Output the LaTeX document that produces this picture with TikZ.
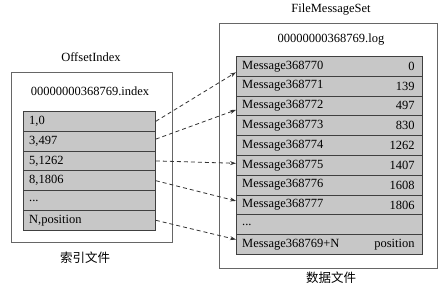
\documentclass[tikz,border=0pt]{standalone}
\usepackage{fontspec}
\setmainfont{Liberation Serif}
\newfontfamily\cjk{Noto Sans CJK SC}
\usetikzlibrary{arrows.meta}
\begin{document}
\begin{tikzpicture}[x=1pt,y=-1pt,
  font=\fontsize{12.5}{14}\selectfont,
  outerbox/.style={draw=black!60,line width=0.9pt},
  cell/.style={draw=black!75,fill=black!22,line width=0.8pt,inner sep=0pt},
  lcell/.style={cell,minimum width=132pt,minimum height=19.8pt,anchor=north west},
  rcell/.style={cell,minimum width=186pt,minimum height=19.8pt,anchor=north west},
  ltxt/.style={anchor=west,inner sep=0pt},
  rtxt/.style={anchor=east,inner sep=0pt},
  link/.style={draw=black!80,line width=0.8pt,dash pattern=on 4pt off 3pt,-{Stealth[length=6pt,width=4pt]}}]
\useasboundingbox (0,0) rectangle (446,295);
% outer boxes
\node[outerbox,minimum width=161pt,minimum height=170pt,anchor=north west] (lbox) at (11,72) {};
\node[outerbox,minimum width=218pt,minimum height=245pt,anchor=north west] (rbox) at (219,23) {};
\node (ltitle) at (91,57) {OffsetIndex};
\node (rtitle) at (331,10) {FileMessageSet};
\node (lfile) at (90,91) {00000000368769.index};
\node (rfile) at (331,40) {00000000368769.log};
\node (lcap) at (85,258) {\cjk 索引文件};
\node (rcap) at (331,278) {\cjk 数据文件};
% left cells
\node[lcell] (l1) at (23,111.0) {};
\node[lcell] (l2) at (23,130.8) {};
\node[lcell] (l3) at (23,150.6) {};
\node[lcell] (l4) at (23,170.4) {};
\node[lcell] (l5) at (23,190.2) {};
\node[lcell] (l6) at (23,210.0) {};
\node[ltxt] (lt1) at ([xshift=6pt]l1.west) {1,0};
\node[ltxt] (lt2) at ([xshift=6pt]l2.west) {3,497};
\node[ltxt] (lt3) at ([xshift=6pt]l3.west) {5,1262};
\node[ltxt] (lt4) at ([xshift=6pt]l4.west) {8,1806};
\node[ltxt] (lt5) at ([xshift=6pt]l5.west) {...};
\node[ltxt] (lt6) at ([xshift=6pt]l6.west) {N,position};
% right cells
\node[rcell] (r1) at (236,56.0) {};
\node[rcell] (r2) at (236,75.8) {};
\node[rcell] (r3) at (236,95.6) {};
\node[rcell] (r4) at (236,115.4) {};
\node[rcell] (r5) at (236,135.2) {};
\node[rcell] (r6) at (236,155.0) {};
\node[rcell] (r7) at (236,174.8) {};
\node[rcell] (r8) at (236,194.6) {};
\node[rcell] (r9) at (236,214.4) {};
\node[rcell] (r10) at (236,234.2) {};
\node[ltxt] (rm1) at ([xshift=6pt]r1.west) {Message368770};
\node[ltxt] (rm2) at ([xshift=6pt]r2.west) {Message368771};
\node[ltxt] (rm3) at ([xshift=6pt]r3.west) {Message368772};
\node[ltxt] (rm4) at ([xshift=6pt]r4.west) {Message368773};
\node[ltxt] (rm5) at ([xshift=6pt]r5.west) {Message368774};
\node[ltxt] (rm6) at ([xshift=6pt]r6.west) {Message368775};
\node[ltxt] (rm7) at ([xshift=6pt]r7.west) {Message368776};
\node[ltxt] (rm8) at ([xshift=6pt]r8.west) {Message368777};
\node[ltxt] (rm9) at ([xshift=6pt]r9.west) {...};
\node[ltxt] (rm10) at ([xshift=6pt]r10.west) {Message368769+N};
\node[rtxt] (rv1) at ([xshift=-8pt]r1.east) {0};
\node[rtxt] (rv2) at ([xshift=-8pt]r2.east) {139};
\node[rtxt] (rv3) at ([xshift=-8pt]r3.east) {497};
\node[rtxt] (rv4) at ([xshift=-8pt]r4.east) {830};
\node[rtxt] (rv5) at ([xshift=-8pt]r5.east) {1262};
\node[rtxt] (rv6) at ([xshift=-8pt]r6.east) {1407};
\node[rtxt] (rv7) at ([xshift=-8pt]r7.east) {1608};
\node[rtxt] (rv8) at ([xshift=-8pt]r8.east) {1806};
\node[rtxt] (rv10) at ([xshift=-8pt]r10.east) {position};
% links
\draw[link] (l1.east) -- ([yshift=-6pt]r1.west);
\draw[link] ([yshift=2pt]l2.east) -- ([yshift=-4pt]r3.west);
\draw[link] (l3.east) -- ([yshift=2pt]r6.west);
\draw[link] (l4.east) -- ([yshift=4pt]r8.west);
\draw[link] (l6.east) -- ([yshift=5pt]r10.west);
\end{tikzpicture}
\end{document}
